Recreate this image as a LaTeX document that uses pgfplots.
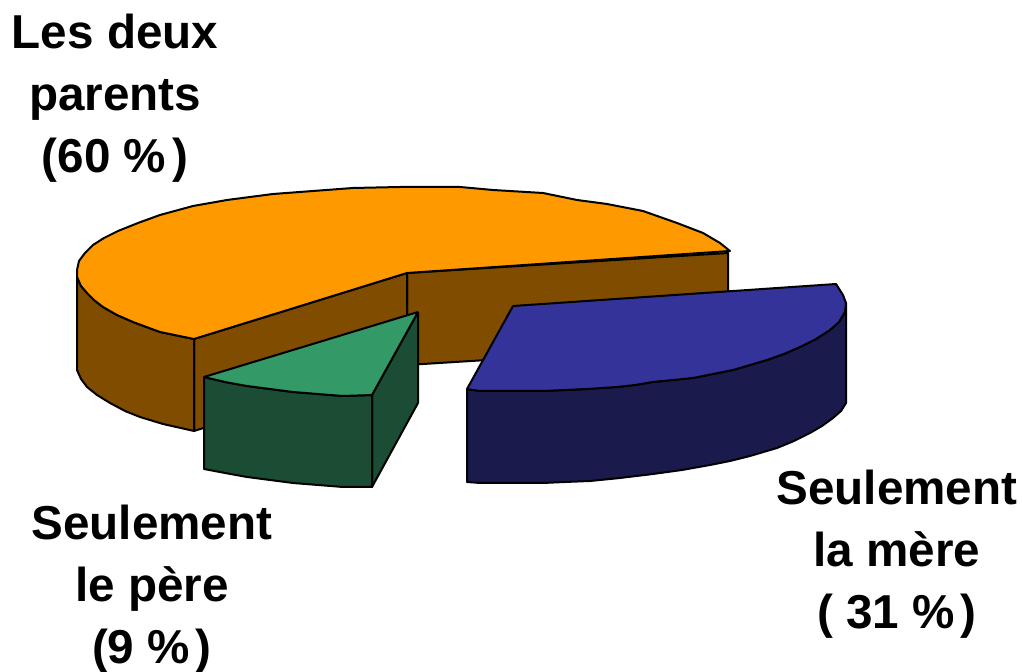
\documentclass[border=0pt]{standalone}
\usepackage{pgfplots}
\pgfplotsset{compat=1.18}
\usepackage{fontspec}
\setmainfont{Liberation Sans}
\definecolor{orangetop}{HTML}{FF9900}
\definecolor{orangeside}{HTML}{804C00}
\definecolor{greentop}{HTML}{339966}
\definecolor{greenside}{HTML}{1A4D33}
\definecolor{bluetop}{HTML}{333399}
\definecolor{blueside}{HTML}{1A1A4D}
\tikzset{lab/.style={font=\fontsize{23.8}{31}\selectfont\bfseries, align=center, inner sep=0pt}}
\begin{document}
\begin{tikzpicture}
\useasboundingbox (0,0) rectangle (511pt,336pt);
\begin{axis}[
    at={(0,0)}, anchor=south west,
    scale only axis, width=511pt, height=336pt,
    xmin=0, xmax=1022, ymin=0, ymax=672,
    y dir=reverse, hide axis, clip=false,
    every axis plot/.append style={no marks, draw=black, line width=1pt, line join=round},
]
% Les deux parents: inner walls
\addplot[fill=orangeside] coordinates {(407,273) (728,253) (728,345) (407,365) (407,273)};
\addplot[fill=orangeside] coordinates {(194,339) (407,273) (407,365) (194,431) (194,339)};
% outer wall
\addplot[fill=orangeside] coordinates {(77,272) (77,277) (81,286) (87,293) (94,300) (103,307) (117,315) (133,322)
    (160,332) (194,339) (194,431) (163,424) (140,417) (125,411) (110,403) (97,395) (87,387) (81,379) (77,370) (77,272)};
% top
\addplot[fill=orangetop] coordinates {(407,273) (730,251) (720,243) (703,233) (677,223) (643,211) (607,204)
    (577,200) (543,193) (493,190) (460,187) (400,187) (353,188) (313,191) (273,194) (227,200) (193,206) (160,215)
    (138,223) (118,231) (104,238) (93,245) (85,253) (79,261) (77,270) (77,277) (81,286) (87,293) (94,300) (103,307)
    (117,315) (133,322) (160,332) (194,339) (407,273)};
% Seulement le pere
\addplot[fill=greenside] coordinates {(418,312) (418,403) (372,487) (372,395) (418,312)};
\addplot[fill=greenside] coordinates {(204,377) (225,382) (247,386) (270,389) (293,392) (318,394) (343,396) (372,395)
    (372,487) (343,487) (318,485) (293,483) (270,480) (247,477) (225,473) (204,469) (204,377)};
\addplot[fill=greentop] coordinates {(418,312) (204,377) (225,382) (247,386) (270,389) (293,392) (318,394) (343,396)
    (372,395) (418,312)};
% Seulement la mere
\addplot[fill=blueside] coordinates {(467,389) (480,391) (500,391) (543,391) (587,389) (617,387) (635,385) (653,382)
    (673,380) (693,378) (713,374) (733,370) (767,360) (784,354) (800,347) (816,339) (830,330) (839,322) (845,312) (846,303)
    (846,403) (841,411) (833,418) (822,426) (810,433) (794,441) (777,448) (750,456) (730,461) (710,465) (682,470)
    (653,474) (620,478) (590,481) (565,482) (543,483) (480,483) (467,482) (467,389)};
\addplot[fill=bluetop] coordinates {(513,306) (836,284) (843,295) (846,303) (845,312) (839,322) (830,330) (816,339)
    (800,347) (784,354) (767,360) (733,370) (713,374) (693,378) (673,380) (653,382) (635,385) (617,387) (587,389)
    (543,391) (500,391) (480,391) (467,389) (513,306)};
\node[lab] at (axis cs:115,98) {Les deux\\parents\\(60 \%\kern3pt)};
\node[lab] at (axis cs:152,589) {Seulement\\le père\\(9 \%\kern3pt)};
\node[lab] at (axis cs:897,554) {Seulement\\la mère\\( 31 \%\kern3pt)};
\end{axis}
\end{tikzpicture}
\end{document}
